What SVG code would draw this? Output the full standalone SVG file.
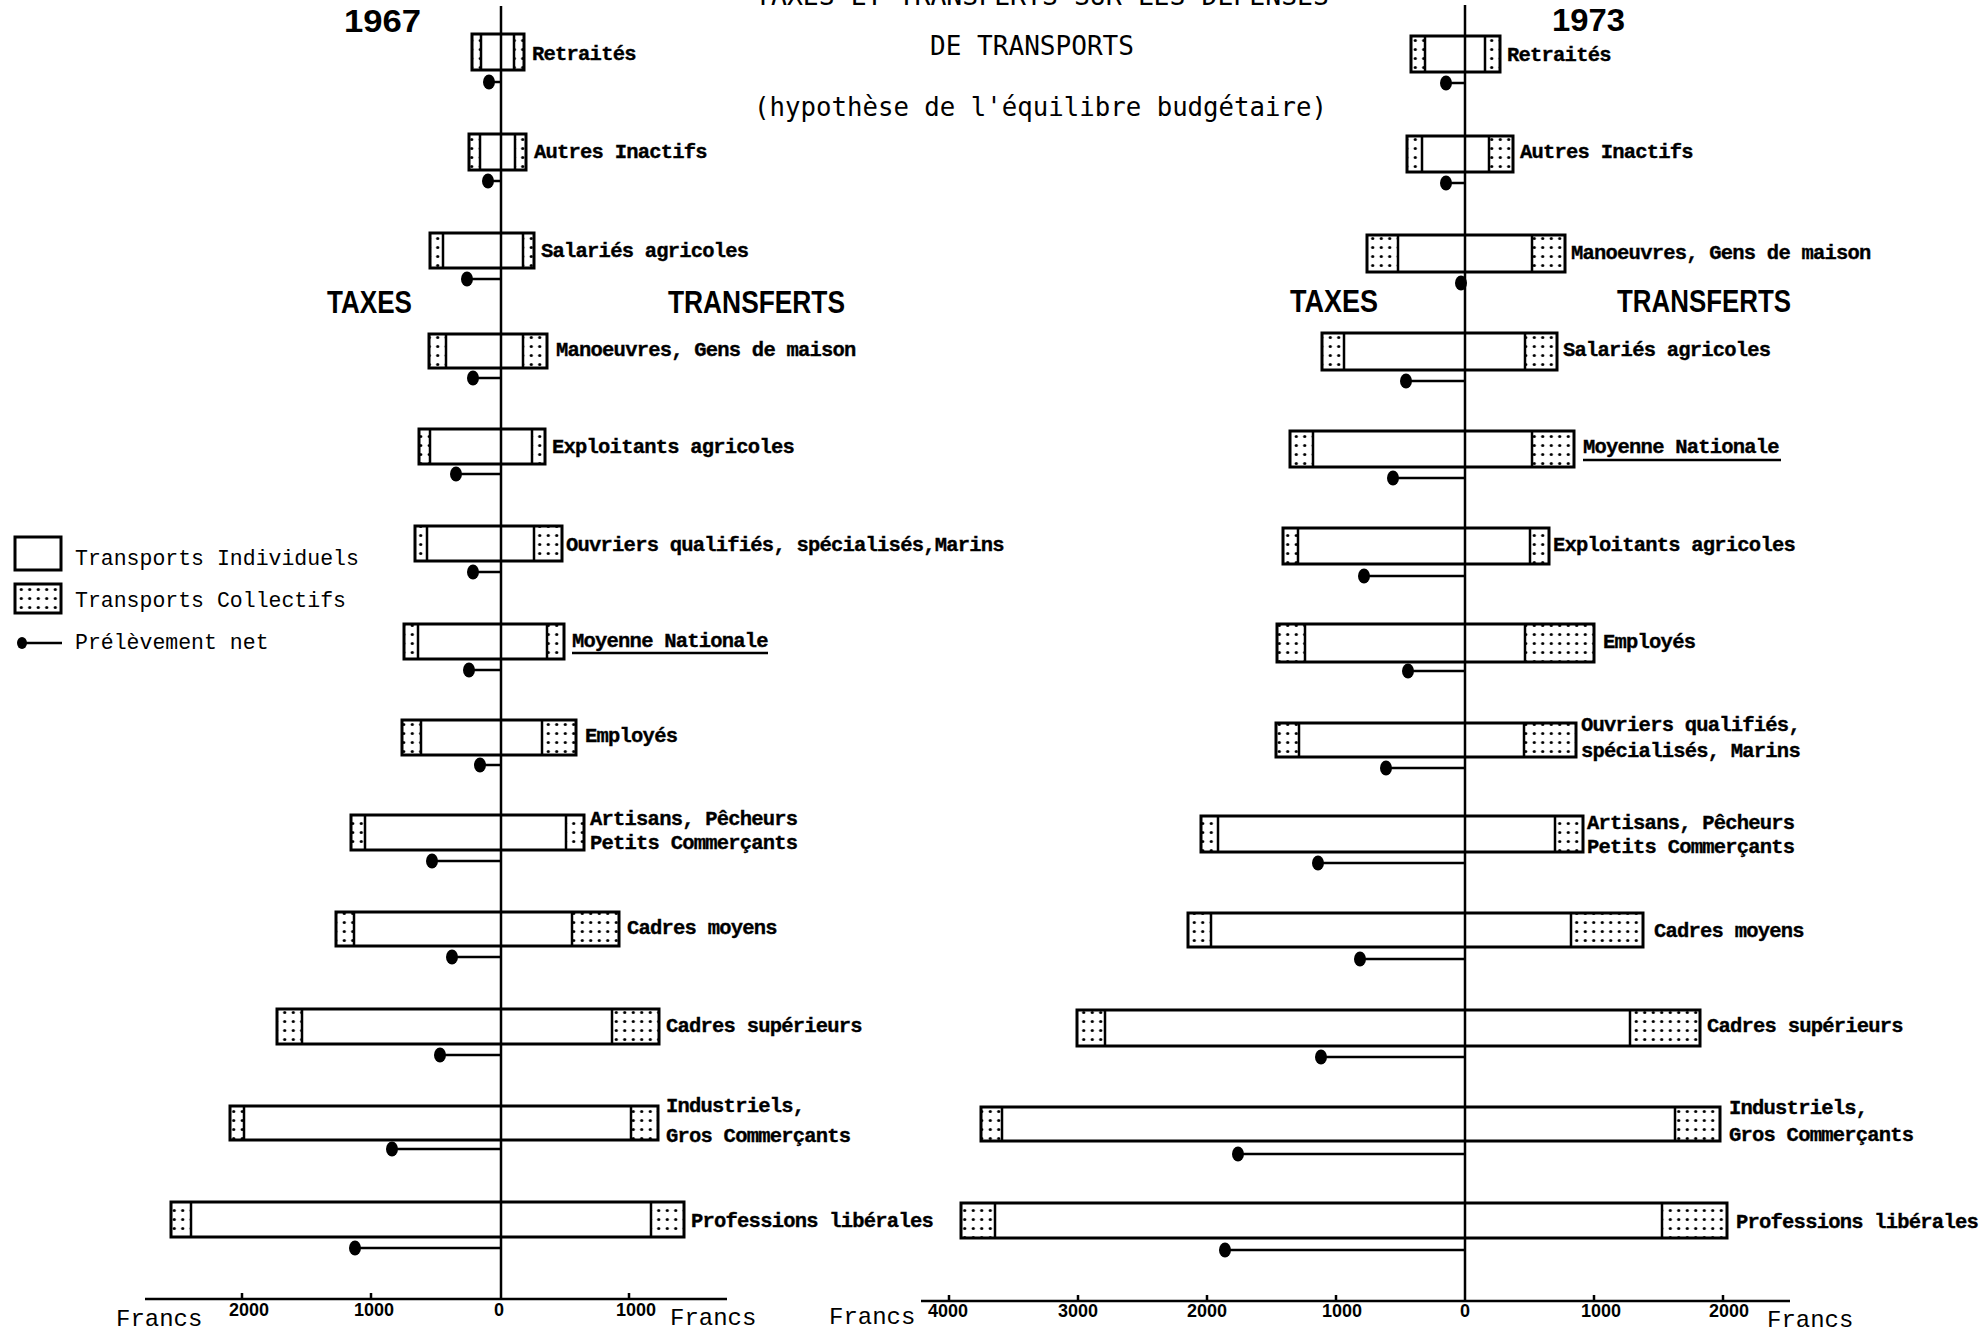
<svg xmlns="http://www.w3.org/2000/svg" width="1983" height="1332" viewBox="0 0 1983 1332">
<style>
.bar{fill:none;stroke:#000;stroke-width:3}
.hat{fill:url(#dots)}
.div{fill:none;stroke:#000;stroke-width:2.5}
.ax{fill:none;stroke:#000;stroke-width:2.5}
.net{fill:none;stroke:#000;stroke-width:2.5}
.dot{fill:#000}
.lb{font-family:"Liberation Mono",monospace;font-weight:bold;font-size:20.5px;letter-spacing:-0.78px;fill:#000;stroke:#000;stroke-width:0.35}
.lg{font-family:"Liberation Mono",monospace;font-size:21.5px;fill:#000}
.ti{font-family:"DejaVu Sans Mono","Liberation Mono",monospace;font-size:25.8px;fill:#000}
.hd{font-family:"Liberation Sans",Arial,sans-serif;font-weight:bold;font-size:32px;fill:#000}
.tk{font-family:"Liberation Sans",Arial,sans-serif;font-weight:bold;font-size:18px;fill:#000;text-anchor:middle}
.fr{font-family:"Liberation Mono",monospace;font-size:24px;fill:#000}
</style>
<defs>
<pattern id="dots" patternUnits="userSpaceOnUse" width="8.5" height="9">
<circle cx="4.25" cy="4.5" r="1.6" fill="#000"/>
</pattern>
</defs>
<rect width="1983" height="1332" fill="#fff"/>

<g id="titles">
<text class="ti" x="1042" y="5" text-anchor="middle" textLength="574" lengthAdjust="spacingAndGlyphs">TAXES ET TRANSFERTS SUR LES DEPENSES</text>
<text class="ti" x="930" y="55" textLength="204" lengthAdjust="spacingAndGlyphs">DE TRANSPORTS</text>
<text class="ti" x="754" y="116" textLength="573" lengthAdjust="spacingAndGlyphs">(hypothèse de l'équilibre budgétaire)</text>
<text class="hd" x="344" y="32" font-size="33" textLength="77" lengthAdjust="spacingAndGlyphs">1967</text>
<text class="hd" x="1552" y="31" font-size="33" textLength="73" lengthAdjust="spacingAndGlyphs">1973</text>
<text class="hd" x="327" y="313" textLength="85" lengthAdjust="spacingAndGlyphs">TAXES</text>
<text class="hd" x="668" y="313" textLength="177" lengthAdjust="spacingAndGlyphs">TRANSFERTS</text>
<text class="hd" x="1290" y="312" textLength="88" lengthAdjust="spacingAndGlyphs">TAXES</text>
<text class="hd" x="1617" y="312" textLength="174" lengthAdjust="spacingAndGlyphs">TRANSFERTS</text>
</g>

<g id="legend">
<rect class="bar" x="15" y="537" width="46" height="33" stroke-width="2.5"/>
<rect class="hat" x="15" y="584" width="46" height="29"/>
<rect class="bar" x="15" y="584" width="46" height="29" stroke-width="2.5"/>
<ellipse class="dot" cx="22" cy="643" rx="5" ry="6"/>
<line class="net" x1="22" y1="643" x2="62" y2="643"/>
<text class="lg" x="75" y="565">Transports Individuels</text>
<text class="lg" x="75" y="607">Transports Collectifs</text>
<text class="lg" x="75" y="649">Prélèvement net</text>
</g>

<g id="connectors">
<line class="ax" x1="501" y1="6" x2="501" y2="1299"/>
<line class="ax" x1="145" y1="1299" x2="727" y2="1299"/>
<path class="ax" d="M242 1293V1299M371 1293V1299M629 1293V1299"/>
<line class="ax" x1="1465" y1="5" x2="1465" y2="1301"/>
<line class="ax" x1="921" y1="1301" x2="1790" y2="1301"/>
<path class="ax" d="M949 1295V1301M1078 1295V1301M1207 1295V1301M1336 1295V1301M1594 1295V1301M1723 1295V1301"/>
<g id="net67">
<path class="net" d="M489 82H501M488 181H501M467 279H501M473 378H501M456 474H501M473 572H501M469 670H501M480 765H501M432 861H501M452 957H501M440 1055H501M392 1149H501M355 1248H501"/>
<ellipse class="dot" cx="489" cy="82" rx="6" ry="7.5"/>
<ellipse class="dot" cx="488" cy="181" rx="6" ry="7.5"/>
<ellipse class="dot" cx="467" cy="279" rx="6" ry="7.5"/>
<ellipse class="dot" cx="473" cy="378" rx="6" ry="7.5"/>
<ellipse class="dot" cx="456" cy="474" rx="6" ry="7.5"/>
<ellipse class="dot" cx="473" cy="572" rx="6" ry="7.5"/>
<ellipse class="dot" cx="469" cy="670" rx="6" ry="7.5"/>
<ellipse class="dot" cx="480" cy="765" rx="6" ry="7.5"/>
<ellipse class="dot" cx="432" cy="861" rx="6" ry="7.5"/>
<ellipse class="dot" cx="452" cy="957" rx="6" ry="7.5"/>
<ellipse class="dot" cx="440" cy="1055" rx="6" ry="7.5"/>
<ellipse class="dot" cx="392" cy="1149" rx="6" ry="7.5"/>
<ellipse class="dot" cx="355" cy="1248" rx="6" ry="7.5"/>
</g>
<g id="net73">
<path class="net" d="M1446 83H1465M1446 183H1465M1461 283H1465M1406 381H1465M1393 478H1465M1364 576H1465M1408 671H1465M1386 768H1465M1318 863H1465M1360 959H1465M1321 1057H1465M1238 1154H1465M1225 1250H1465"/>
<ellipse class="dot" cx="1446" cy="83" rx="6" ry="7.5"/>
<ellipse class="dot" cx="1446" cy="183" rx="6" ry="7.5"/>
<ellipse class="dot" cx="1461" cy="283" rx="6" ry="7.5"/>
<ellipse class="dot" cx="1406" cy="381" rx="6" ry="7.5"/>
<ellipse class="dot" cx="1393" cy="478" rx="6" ry="7.5"/>
<ellipse class="dot" cx="1364" cy="576" rx="6" ry="7.5"/>
<ellipse class="dot" cx="1408" cy="671" rx="6" ry="7.5"/>
<ellipse class="dot" cx="1386" cy="768" rx="6" ry="7.5"/>
<ellipse class="dot" cx="1318" cy="863" rx="6" ry="7.5"/>
<ellipse class="dot" cx="1360" cy="959" rx="6" ry="7.5"/>
<ellipse class="dot" cx="1321" cy="1057" rx="6" ry="7.5"/>
<ellipse class="dot" cx="1238" cy="1154" rx="6" ry="7.5"/>
<ellipse class="dot" cx="1225" cy="1250" rx="6" ry="7.5"/>
</g>
</g>

<g id="axis-labels">
<text class="tk" x="249" y="1316">2000</text>
<text class="tk" x="374" y="1316">1000</text>
<text class="tk" x="499" y="1316">0</text>
<text class="tk" x="636" y="1316">1000</text>
<text class="fr" x="116" y="1326">Francs</text>
<text class="fr" x="670" y="1325">Francs</text>
<text class="tk" x="948" y="1317">4000</text>
<text class="tk" x="1078" y="1317">3000</text>
<text class="tk" x="1207" y="1317">2000</text>
<text class="tk" x="1342" y="1317">1000</text>
<text class="tk" x="1465" y="1317">0</text>
<text class="tk" x="1601" y="1317">1000</text>
<text class="tk" x="1729" y="1317">2000</text>
<text class="fr" x="829" y="1324">Francs</text>
<text class="fr" x="1767" y="1327">Francs</text>
</g>

<!-- 1967 -->
<g id="n67-retraites"><rect class="hat" x="472" y="34" width="9" height="36"/><rect class="hat" x="514" y="34" width="10" height="36"/><path class="div" d="M481 34V70M514 34V70"/><rect class="bar" x="472" y="34" width="52" height="36"/><text class="lb" x="532" y="60">Retraités</text></g>
<g id="n67-autres-inactifs"><rect class="hat" x="469" y="134" width="11" height="36"/><rect class="hat" x="515" y="134" width="11" height="36"/><path class="div" d="M480 134V170M515 134V170"/><rect class="bar" x="469" y="134" width="57" height="36"/><text class="lb" x="534" y="158">Autres Inactifs</text></g>
<g id="n67-salaries-agricoles"><rect class="hat" x="430" y="233" width="13" height="35"/><rect class="hat" x="523" y="233" width="11" height="35"/><path class="div" d="M443 233V268M523 233V268"/><rect class="bar" x="430" y="233" width="104" height="35"/><text class="lb" x="541" y="257">Salariés agricoles</text></g>
<g id="n67-manoeuvres"><rect class="hat" x="429" y="334" width="17" height="34"/><rect class="hat" x="523" y="334" width="24" height="34"/><path class="div" d="M446 334V368M523 334V368"/><rect class="bar" x="429" y="334" width="118" height="34"/><text class="lb" x="556" y="356">Manoeuvres, Gens de maison</text></g>
<g id="n67-exploitants"><rect class="hat" x="419" y="429" width="11" height="35"/><rect class="hat" x="532" y="429" width="13" height="35"/><path class="div" d="M430 429V464M532 429V464"/><rect class="bar" x="419" y="429" width="126" height="35"/><text class="lb" x="552" y="453">Exploitants agricoles</text></g>
<g id="n67-ouvriers"><rect class="hat" x="415" y="526" width="12" height="35"/><rect class="hat" x="534" y="526" width="28" height="35"/><path class="div" d="M427 526V561M534 526V561"/><rect class="bar" x="415" y="526" width="147" height="35"/><text class="lb" x="566" y="551">Ouvriers qualifiés, spécialisés,Marins</text></g>
<g id="n67-moyenne"><rect class="hat" x="404" y="624" width="14" height="35"/><rect class="hat" x="547" y="624" width="17" height="35"/><path class="div" d="M418 624V659M547 624V659"/><rect class="bar" x="404" y="624" width="160" height="35"/><text class="lb" x="572" y="647">Moyenne Nationale</text><line class="div" x1="572" y1="653" x2="768" y2="653" stroke-width="2"/></g>
<g id="n67-employes"><rect class="hat" x="402" y="720" width="19" height="35"/><rect class="hat" x="542" y="720" width="34" height="35"/><path class="div" d="M421 720V755M542 720V755"/><rect class="bar" x="402" y="720" width="174" height="35"/><text class="lb" x="585" y="742">Employés</text></g>
<g id="n67-artisans"><rect class="hat" x="351" y="815" width="14" height="35"/><rect class="hat" x="566" y="815" width="18" height="35"/><path class="div" d="M365 815V850M566 815V850"/><rect class="bar" x="351" y="815" width="233" height="35"/><text class="lb" x="590" y="825">Artisans, Pêcheurs</text><text class="lb" x="590" y="849">Petits Commerçants</text></g>
<g id="n67-cadres-moyens"><rect class="hat" x="336" y="912" width="18" height="34"/><rect class="hat" x="572" y="912" width="47" height="34"/><path class="div" d="M354 912V946M572 912V946"/><rect class="bar" x="336" y="912" width="283" height="34"/><text class="lb" x="627" y="934">Cadres moyens</text></g>
<g id="n67-cadres-superieurs"><rect class="hat" x="277" y="1009" width="25" height="35"/><rect class="hat" x="612" y="1009" width="47" height="35"/><path class="div" d="M302 1009V1044M612 1009V1044"/><rect class="bar" x="277" y="1009" width="382" height="35"/><text class="lb" x="666" y="1032">Cadres supérieurs</text></g>
<g id="n67-industriels"><rect class="hat" x="230" y="1106" width="14" height="34"/><rect class="hat" x="631" y="1106" width="27" height="34"/><path class="div" d="M244 1106V1140M631 1106V1140"/><rect class="bar" x="230" y="1106" width="428" height="34"/><text class="lb" x="666" y="1112">Industriels,</text><text class="lb" x="666" y="1142">Gros Commerçants</text></g>
<g id="n67-professions-liberales"><rect class="hat" x="171" y="1202" width="20" height="35"/><rect class="hat" x="651" y="1202" width="33" height="35"/><path class="div" d="M191 1202V1237M651 1202V1237"/><rect class="bar" x="171" y="1202" width="513" height="35"/><text class="lb" x="691" y="1227">Professions libérales</text></g>

<!-- 1973 -->
<g id="n73-retraites"><rect class="hat" x="1411" y="36" width="14" height="36"/><rect class="hat" x="1485" y="36" width="15" height="36"/><path class="div" d="M1425 36V72M1485 36V72"/><rect class="bar" x="1411" y="36" width="89" height="36"/><text class="lb" x="1507" y="61">Retraités</text></g>
<g id="n73-autres-inactifs"><rect class="hat" x="1407" y="136" width="15" height="36"/><rect class="hat" x="1489" y="136" width="24" height="36"/><path class="div" d="M1422 136V172M1489 136V172"/><rect class="bar" x="1407" y="136" width="106" height="36"/><text class="lb" x="1520" y="158">Autres Inactifs</text></g>
<g id="n73-manoeuvres"><rect class="hat" x="1367" y="235" width="31" height="37"/><rect class="hat" x="1532" y="235" width="33" height="37"/><path class="div" d="M1398 235V272M1532 235V272"/><rect class="bar" x="1367" y="235" width="198" height="37"/><text class="lb" x="1571" y="259">Manoeuvres, Gens de maison</text></g>
<g id="n73-salaries-agricoles"><rect class="hat" x="1322" y="333" width="22" height="37"/><rect class="hat" x="1525" y="333" width="32" height="37"/><path class="div" d="M1344 333V370M1525 333V370"/><rect class="bar" x="1322" y="333" width="235" height="37"/><text class="lb" x="1563" y="356">Salariés agricoles</text></g>
<g id="n73-moyenne"><rect class="hat" x="1290" y="431" width="23" height="36"/><rect class="hat" x="1532" y="431" width="42" height="36"/><path class="div" d="M1313 431V467M1532 431V467"/><rect class="bar" x="1290" y="431" width="284" height="36"/><text class="lb" x="1583" y="453">Moyenne Nationale</text><line class="div" x1="1583" y1="460" x2="1781" y2="460" stroke-width="2"/></g>
<g id="n73-exploitants"><rect class="hat" x="1283" y="528" width="15" height="36"/><rect class="hat" x="1530" y="528" width="19" height="36"/><path class="div" d="M1298 528V564M1530 528V564"/><rect class="bar" x="1283" y="528" width="266" height="36"/><text class="lb" x="1553" y="551">Exploitants agricoles</text></g>
<g id="n73-employes"><rect class="hat" x="1277" y="624" width="28" height="38"/><rect class="hat" x="1525" y="624" width="69" height="38"/><path class="div" d="M1305 624V662M1525 624V662"/><rect class="bar" x="1277" y="624" width="317" height="38"/><text class="lb" x="1603" y="648">Employés</text></g>
<g id="n73-ouvriers"><rect class="hat" x="1276" y="723" width="23" height="34"/><rect class="hat" x="1524" y="723" width="52" height="34"/><path class="div" d="M1299 723V757M1524 723V757"/><rect class="bar" x="1276" y="723" width="300" height="34"/><text class="lb" x="1581" y="731">Ouvriers qualifiés,</text><text class="lb" x="1581" y="757">spécialisés, Marins</text></g>
<g id="n73-artisans"><rect class="hat" x="1201" y="816" width="17" height="36"/><rect class="hat" x="1555" y="816" width="28" height="36"/><path class="div" d="M1218 816V852M1555 816V852"/><rect class="bar" x="1201" y="816" width="382" height="36"/><text class="lb" x="1587" y="829">Artisans, Pêcheurs</text><text class="lb" x="1587" y="853">Petits Commerçants</text></g>
<g id="n73-cadres-moyens"><rect class="hat" x="1188" y="913" width="23" height="34"/><rect class="hat" x="1571" y="913" width="72" height="34"/><path class="div" d="M1211 913V947M1571 913V947"/><rect class="bar" x="1188" y="913" width="455" height="34"/><text class="lb" x="1654" y="937">Cadres moyens</text></g>
<g id="n73-cadres-superieurs"><rect class="hat" x="1077" y="1010" width="28" height="36"/><rect class="hat" x="1630" y="1010" width="70" height="36"/><path class="div" d="M1105 1010V1046M1630 1010V1046"/><rect class="bar" x="1077" y="1010" width="623" height="36"/><text class="lb" x="1707" y="1032">Cadres supérieurs</text></g>
<g id="n73-industriels"><rect class="hat" x="981" y="1107" width="21" height="34"/><rect class="hat" x="1675" y="1107" width="45" height="34"/><path class="div" d="M1002 1107V1141M1675 1107V1141"/><rect class="bar" x="981" y="1107" width="739" height="34"/><text class="lb" x="1729" y="1114">Industriels,</text><text class="lb" x="1729" y="1141">Gros Commerçants</text></g>
<g id="n73-professions-liberales"><rect class="hat" x="961" y="1203" width="34" height="35"/><rect class="hat" x="1662" y="1203" width="65" height="35"/><path class="div" d="M995 1203V1238M1662 1203V1238"/><rect class="bar" x="961" y="1203" width="766" height="35"/><text class="lb" x="1736" y="1228">Professions libérales</text></g>
</svg>
